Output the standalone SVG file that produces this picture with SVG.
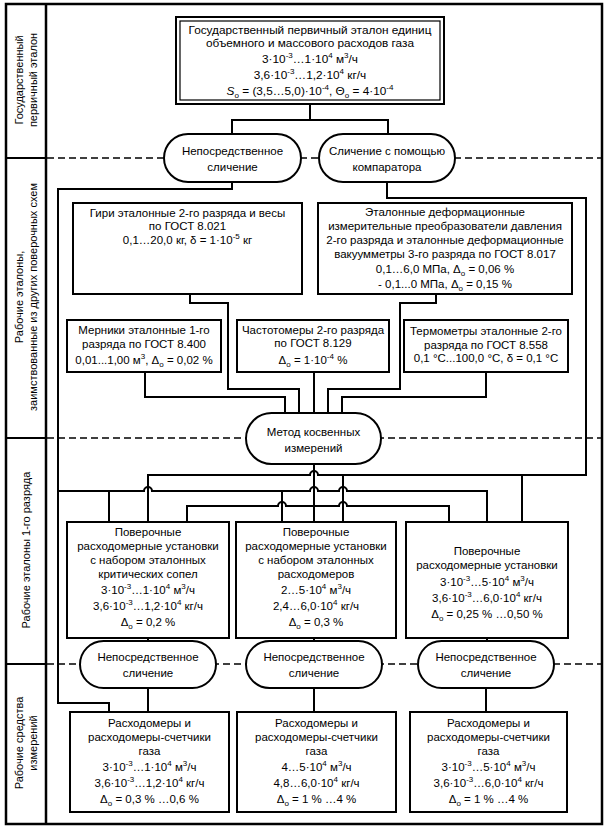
<svg xmlns="http://www.w3.org/2000/svg" width="610" height="830" viewBox="0 0 610 830">
<style>
text{font-family:"Liberation Sans",Arial,sans-serif;font-size:11.5px;text-anchor:middle;fill:#000}
.lab{font-size:11px}
.t{font-size:11.8px}
.s{font-size:8px}
.b{fill:#fff;stroke:#000;stroke-width:2}
.o{fill:#fff;stroke:#000;stroke-width:2}
.c{fill:none;stroke:#000;stroke-width:2}
.d{fill:none;stroke:#000;stroke-width:1.3;stroke-dasharray:7 4}
.f{fill:none;stroke:#000;stroke-width:2.5}
</style>
<rect width="610" height="830" fill="#fff"/>
<g id="frame">
<rect class="f" x="6" y="4" width="596" height="820"/>
<line class="f" x1="46" y1="4" x2="46" y2="824"/>
<path class="c" d="M6 158H46M6 438H46M6 664H46"/>
<path class="d" d="M47 158H602M47 438H602M47 664H602"/>
</g>
<g id="labels">
<g transform="translate(26,80) rotate(-90)"><text class="lab" y="-3.5">Государственный</text><text class="lab" y="10.5">первичный эталон</text></g>
<g transform="translate(26,297) rotate(-90)"><text class="lab" y="-3.5">Рабочие эталоны,</text><text class="lab" y="10.5">заимствованные из других поверочных схем</text></g>
<g transform="translate(26,550) rotate(-90)"><text class="lab" y="4">Рабочие эталоны 1-го разряда</text></g>
<g transform="translate(26,743) rotate(-90)"><text class="lab" y="-3.5">Рабочие средства</text><text class="lab" y="10.5">измерений</text></g>
</g>
<g id="connectors">
<path class="c" d="M310 104V120M232 134V120H388V134"/>
<path class="c" d="M232 182V189H58V703H109V712"/>
<path class="c" d="M387 182V198H586V475H318A4 4 0 0 0 310 475H148V522"/>
<path class="c" d="M343 475V522M522 475V522"/>
<path class="c" d="M58 491H144A4 4 0 0 1 152 491H310A4 4 0 0 1 318 491H339A4 4 0 0 1 347 491H487V522"/>
<path class="c" d="M109 491V522M282 491V522"/>
<path class="c" d="M187 522V506H278A4 4 0 0 1 286 506H339A4 4 0 0 1 347 506H449V522"/>
<path class="c" d="M314 464V522"/>
<path class="c" d="M190 294V303H228V389H299V413"/>
<path class="c" d="M436 294V303H400V389H328V413"/>
<path class="c" d="M145 372V397H285V413"/>
<path class="c" d="M314 372V413"/>
<path class="c" d="M486 372V397H342V413"/>
<path class="c" d="M148 638V641M314 638V641M487 638V641"/>
<path class="c" d="M148 688V712M314 688V712M486 688V712"/>
</g>
<g id="state-standard">
<rect class="b" x="176" y="17" width="268" height="87"/>
<rect fill="none" stroke="#000" stroke-width="1.2" x="180" y="21" width="260" height="79"/>
<text class="t" x="310" y="33.5">Государственный первичный эталон единиц</text>
<text class="t" x="310" y="46.5">объемного и массового расходов газа</text>
<text class="t" x="310" y="63">3·10<tspan class="s" dy="-5">-3</tspan><tspan dy="5">…1·10</tspan><tspan class="s" dy="-5">4</tspan><tspan dy="5"> м</tspan><tspan class="s" dy="-5">3</tspan><tspan dy="5">/ч</tspan></text>
<text class="t" x="310" y="79">3,6·10<tspan class="s" dy="-5">-3</tspan><tspan dy="5">…1,2·10</tspan><tspan class="s" dy="-5">4</tspan><tspan dy="5"> кг/ч</tspan></text>
<text class="t" x="310" y="95"><tspan font-style="italic">S</tspan><tspan class="s" dy="3">о</tspan><tspan dy="-3"> = (3,5…5,0)·10</tspan><tspan class="s" dy="-5">-4</tspan><tspan dy="5">, Θ</tspan><tspan class="s" dy="3">о</tspan><tspan dy="-3"> = 4·10</tspan><tspan class="s" dy="-5">-4</tspan></text>
</g>
<g id="direct-1">
<rect class="o" x="164" y="134" width="137" height="48" rx="24"/>
<text x="232.5" y="155">Непосредственное</text><text x="232.5" y="171">сличение</text>
</g>
<g id="comparator">
<rect class="o" x="319" y="134" width="136" height="48" rx="24"/>
<text x="387" y="155">Сличение с помощью</text><text x="387" y="171">компаратора</text>
</g>
<g id="weights">
<rect class="b" x="73" y="203" width="229" height="91"/>
<text x="187.5" y="217">Гири эталонные 2-го разряда и весы</text>
<text x="187.5" y="230">по ГОСТ 8.021</text>
<text x="187.5" y="244">0,1…20,0 кг, δ = 1·10<tspan class="s" dy="-5">-5</tspan><tspan dy="5"> кг</tspan></text>
</g>
<g id="pressure">
<rect class="b" x="318" y="203" width="254" height="91"/>
<text x="445" y="216">Эталонные деформационные</text>
<text x="445" y="230">измерительные преобразователи давления</text>
<text x="445" y="244">2-го разряда и эталонные деформационные</text>
<text x="445" y="258">вакуумметры 3-го разряда по ГОСТ 8.017</text>
<text x="445" y="273">0,1…6,0 МПа, Δ<tspan class="s" dy="3">о</tspan><tspan dy="-3"> = 0,06 %</tspan></text>
<text x="445" y="288">- 0,1...0 МПа, Δ<tspan class="s" dy="3">о</tspan><tspan dy="-3"> = 0,15 %</tspan></text>
</g>
<g id="measures">
<rect class="b" x="67" y="320" width="154" height="52"/>
<text x="144" y="334">Мерники эталонные 1-го</text>
<text x="144" y="348">разряда по ГОСТ 8.400</text>
<text x="144" y="364">0,01...1,00 м<tspan class="s" dy="-5">3</tspan><tspan dy="5">, Δ</tspan><tspan class="s" dy="3">о</tspan><tspan dy="-3"> = 0,02 %</tspan></text>
</g>
<g id="frequency">
<rect class="b" x="237" y="320" width="152" height="52"/>
<text x="313" y="334">Частотомеры 2-го разряда</text>
<text x="313" y="347">по ГОСТ 8.129</text>
<text x="313" y="364">Δ<tspan class="s" dy="3">о</tspan><tspan dy="-3"> = 1·10</tspan><tspan class="s" dy="-5">-4</tspan><tspan dy="5"> %</tspan></text>
</g>
<g id="thermo">
<rect class="b" x="404" y="320" width="164" height="52"/>
<text x="486" y="335">Термометры эталонные 2-го</text>
<text x="486" y="349">разряда по ГОСТ 8.558</text>
<text x="486" y="362">0,1 °С...100,0 °С, δ = 0,1 °С</text>
</g>
<g id="indirect">
<rect class="o" x="246" y="413" width="135" height="51" rx="25.5"/>
<text x="313.5" y="436">Метод косвенных</text><text x="313.5" y="452">измерений</text>
</g>
<g id="setup-nozzles">
<rect class="b" x="67" y="522" width="162" height="116"/>
<text x="148" y="536">Поверочные</text>
<text x="148" y="550">расходомерные установки</text>
<text x="148" y="564">с набором эталонных</text>
<text x="148" y="578">критических сопел</text>
<text x="148" y="594">3·10<tspan class="s" dy="-5">-3</tspan><tspan dy="5">…1·10</tspan><tspan class="s" dy="-5">4</tspan><tspan dy="5"> м</tspan><tspan class="s" dy="-5">3</tspan><tspan dy="5">/ч</tspan></text>
<text x="148" y="610">3,6·10<tspan class="s" dy="-5">-3</tspan><tspan dy="5">…1,2·10</tspan><tspan class="s" dy="-5">4</tspan><tspan dy="5"> кг/ч</tspan></text>
<text x="148" y="626">Δ<tspan class="s" dy="3">о</tspan><tspan dy="-3"> = 0,2 %</tspan></text>
</g>
<g id="setup-meters">
<rect class="b" x="236" y="522" width="160" height="116"/>
<text x="316" y="536">Поверочные</text>
<text x="316" y="550">расходомерные установки</text>
<text x="316" y="564">с набором эталонных</text>
<text x="316" y="578">расходомеров</text>
<text x="316" y="594">2…5·10<tspan class="s" dy="-5">4</tspan><tspan dy="5"> м</tspan><tspan class="s" dy="-5">3</tspan><tspan dy="5">/ч</tspan></text>
<text x="316" y="610">2,4…6,0·10<tspan class="s" dy="-5">4</tspan><tspan dy="5"> кг/ч</tspan></text>
<text x="316" y="626">Δ<tspan class="s" dy="3">о</tspan><tspan dy="-3"> = 0,3 %</tspan></text>
</g>
<g id="setup-plain">
<rect class="b" x="406" y="522" width="162" height="116"/>
<text x="487" y="555">Поверочные</text>
<text x="487" y="569">расходомерные установки</text>
<text x="487" y="586">3·10<tspan class="s" dy="-5">-3</tspan><tspan dy="5">…5·10</tspan><tspan class="s" dy="-5">4</tspan><tspan dy="5"> м</tspan><tspan class="s" dy="-5">3</tspan><tspan dy="5">/ч</tspan></text>
<text x="487" y="602">3,6·10<tspan class="s" dy="-5">-3</tspan><tspan dy="5">…6,0·10</tspan><tspan class="s" dy="-5">4</tspan><tspan dy="5"> кг/ч</tspan></text>
<text x="487" y="618">Δ<tspan class="s" dy="3">о</tspan><tspan dy="-3"> = 0,25 % …0,50 %</tspan></text>
</g>
<g id="direct-a">
<rect class="o" x="80" y="641" width="136" height="47" rx="23.5"/>
<text x="148" y="661">Непосредственное</text><text x="148" y="677">сличение</text>
</g>
<g id="direct-b">
<rect class="o" x="246" y="641" width="136" height="47" rx="23.5"/>
<text x="314" y="661">Непосредственное</text><text x="314" y="677">сличение</text>
</g>
<g id="direct-c">
<rect class="o" x="418" y="641" width="136" height="47" rx="23.5"/>
<text x="486" y="661">Непосредственное</text><text x="486" y="677">сличение</text>
</g>
<g id="meters-a">
<rect class="b" x="70" y="712" width="159" height="100"/>
<text x="149.5" y="727">Расходомеры и</text>
<text x="149.5" y="741">расходомеры-счетчики</text>
<text x="149.5" y="755">газа</text>
<text x="149.5" y="771">3·10<tspan class="s" dy="-5">-3</tspan><tspan dy="5">…1·10</tspan><tspan class="s" dy="-5">4</tspan><tspan dy="5"> м</tspan><tspan class="s" dy="-5">3</tspan><tspan dy="5">/ч</tspan></text>
<text x="149.5" y="787">3,6·10<tspan class="s" dy="-5">-3</tspan><tspan dy="5">…1,2·10</tspan><tspan class="s" dy="-5">4</tspan><tspan dy="5"> кг/ч</tspan></text>
<text x="149.5" y="803">Δ<tspan class="s" dy="3">о</tspan><tspan dy="-3"> = 0,3 % …0,6 %</tspan></text>
</g>
<g id="meters-b">
<rect class="b" x="237" y="712" width="159" height="100"/>
<text x="316.5" y="727">Расходомеры и</text>
<text x="316.5" y="741">расходомеры-счетчики</text>
<text x="316.5" y="755">газа</text>
<text x="316.5" y="771">4…5·10<tspan class="s" dy="-5">4</tspan><tspan dy="5"> м</tspan><tspan class="s" dy="-5">3</tspan><tspan dy="5">/ч</tspan></text>
<text x="316.5" y="787">4,8…6,0·10<tspan class="s" dy="-5">4</tspan><tspan dy="5"> кг/ч</tspan></text>
<text x="316.5" y="803">Δ<tspan class="s" dy="3">о</tspan><tspan dy="-3"> = 1 % …4 %</tspan></text>
</g>
<g id="meters-c">
<rect class="b" x="410" y="712" width="157" height="100"/>
<text x="488.5" y="727">Расходомеры и</text>
<text x="488.5" y="741">расходомеры-счетчики</text>
<text x="488.5" y="755">газа</text>
<text x="488.5" y="771">3·10<tspan class="s" dy="-5">-3</tspan><tspan dy="5">…5·10</tspan><tspan class="s" dy="-5">4</tspan><tspan dy="5"> м</tspan><tspan class="s" dy="-5">3</tspan><tspan dy="5">/ч</tspan></text>
<text x="488.5" y="787">3,6·10<tspan class="s" dy="-5">-3</tspan><tspan dy="5">…6,0·10</tspan><tspan class="s" dy="-5">4</tspan><tspan dy="5"> кг/ч</tspan></text>
<text x="488.5" y="803">Δ<tspan class="s" dy="3">о</tspan><tspan dy="-3"> = 1 % …4 %</tspan></text>
</g>
</svg>
